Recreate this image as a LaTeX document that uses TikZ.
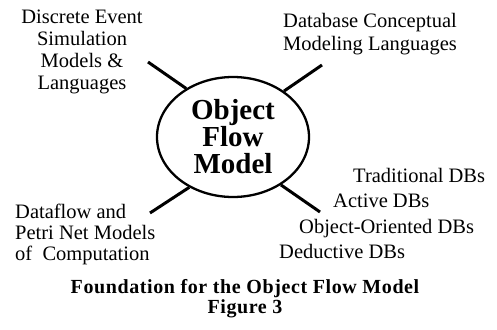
\documentclass[tikz,border=0pt]{standalone}
\usepackage{fontspec}
\setmainfont{Liberation Serif}
\usetikzlibrary{shapes.geometric, positioning}

\begin{document}
\begin{tikzpicture}[
    x=1pt, y=-1pt, % one unit is one pixel of the figure, y runs downwards
    every node/.style={inner sep=0pt, font={\fontsize{20.5}{22}\selectfont}}, % the labels round the hub
    hub/.style={ellipse, draw, line width=2.3pt, minimum width=152pt, minimum height=120pt,
      align=center, font={\fontsize{29}{27}\selectfont\bfseries}},
    spoke/.style={line width=3pt},
    caption/.style={align=center, font={\fontsize{20}{15.5}\selectfont\bfseries\addfontfeature{LetterSpace=3}}}
  ]

  \useasboundingbox (0,0) rectangle (497,329);

  \node[hub] (ofm) at (233,137) {Object\\Flow\\Model};

  % multi-line labels sit on the baseline of their last line
  \node[align=center, anchor=base] (des) at (82,89) {Discrete Event\\Simulation\\Models \&\\Languages};
  \node[align=center, anchor=base] (dbcm) at (370,50) {Database Conceptual\\Modeling Languages};
  \node[align=left, anchor=base west, font={\fontsize{20.5}{21}\selectfont}] (dpn) at (15,260) {Dataflow and\\Petri Net Models\\of~ Computation};

  \node[anchor=base west] (trad) at (353,182) {Traditional DBs};
  \node[anchor=base west] (active) at (333,207) {Active DBs};
  \node[anchor=base west] (oodb) at (299,233) {Object-Oriented DBs};
  \node[anchor=base west] (deddb) at (279,258) {Deductive DBs};

  \node[caption, anchor=base] (cap) at (245,313) {Foundation for the Object Flow Model\\Figure 3};

  % free ends of the four spokes
  \coordinate (ul) at (148,62);
  \coordinate (ur) at (322,65);
  \coordinate (ll) at (150,213);
  \coordinate (lr) at (320,212);

  \draw (ul) edge[spoke] (ofm.134);
  \draw (ur) edge[spoke] (ofm.42);
  \draw (ll) edge[spoke] (ofm.229);
  \draw (lr) edge[spoke] (ofm.315);

\end{tikzpicture}
\end{document}
